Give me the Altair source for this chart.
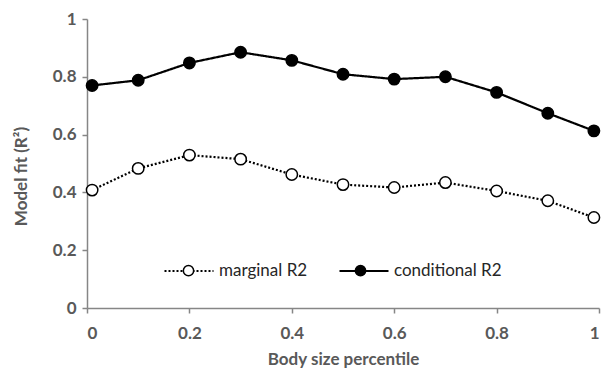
import altair as alt
import pandas as pd

percentile = [0.01, 0.1, 0.2, 0.3, 0.4, 0.5, 0.6, 0.7, 0.8, 0.9, 0.99]
marginal_r2 = [0.408, 0.483, 0.529, 0.515, 0.462, 0.427, 0.417, 0.434, 0.405, 0.371, 0.313]
conditional_r2 = [0.770, 0.788, 0.848, 0.885, 0.857, 0.809, 0.792, 0.800, 0.746, 0.674, 0.613]
series_names = ["marginal R2", "conditional R2"]

rows = []
for name, vals in zip(series_names, [marginal_r2, conditional_r2]):
    for p, v in zip(percentile, vals):
        rows.append({"p": p, "r2": v, "series": name, "series2": name})
df = pd.DataFrame(rows)

FONT = "Lato"
GRAY = "#595959"
AX = "#868686"
FS = 17

x = alt.X("p:Q", scale=alt.Scale(domain=[0, 1], nice=False),
          axis=alt.Axis(values=[0, 0.2, 0.4, 0.6, 0.8, 1], format=".1~f",
                        title="Body size percentile", labelBaseline="alphabetic",
                        labelPadding=25, titleBaseline="middle", titleY=51,
                        titleX=256, titleAnchor="middle"))
y = alt.Y("r2:Q", scale=alt.Scale(domain=[0, 1], nice=False),
          axis=alt.Axis(values=[0, 0.2, 0.4, 0.6, 0.8, 1], format=".1~f",
                        title="Model fit (R²)", labelPadding=6, labelBaseline="middle",
                        titleX=-66, titleY=157, titleBaseline="middle", titleAlign="center"))

LEG_X = 76
LEG_Y = 226
SYM = 2401
circle_path = "M-0.21,0 A0.21,0.21 0 1,0 0.21,0 A0.21,0.21 0 1,0 -0.21,0 Z"

common_legend = dict(orient="none", legendX=LEG_X, legendY=LEG_Y, direction="horizontal",
                     title=None, labelFont=FONT, labelFontSize=FS, labelColor="#262626",
                     labelOffset=4, padding=0, symbolSize=SYM)

lines = alt.Chart(df).mark_line(color="black", strokeWidth=2.2).encode(
    x=x, y=y,
    strokeDash=alt.StrokeDash("series:N",
        scale=alt.Scale(domain=series_names, range=[[2, 2], [1, 0]]),
        legend=alt.Legend(symbolType="stroke", symbolStrokeColor="black",
                          symbolStrokeWidth=2.2, columnPadding=27, **common_legend)),
)

points = alt.Chart(df).mark_point(shape="circle", filled=True, stroke="black",
                                  strokeWidth=1.5, size=130, opacity=1).encode(
    x=x, y=y,
    fill=alt.Fill("series2:N", sort=series_names,
        scale=alt.Scale(range=["white", "black"]),
        legend=alt.Legend(symbolType=circle_path, symbolStrokeColor="black",
                          symbolStrokeWidth=1.5, labelExpr="''", symbolOpacity=1,
                          columnPadding=117, **common_legend)),
)

chart = alt.layer(lines, points).properties(
    width=512, height=289,
    background="white",
    autosize=alt.AutoSizeParams(type="none"),
    padding={"left": 87, "top": 19, "right": 13, "bottom": 62},
).configure_view(stroke=None).configure_axis(
    grid=False, domainColor=AX, domainWidth=1.5, tickColor=AX, tickWidth=1.5, tickSize=5,
    labelFont=FONT, labelFontWeight="bold", labelColor=GRAY, labelFontSize=FS,
    titleFont=FONT, titleFontWeight="bold", titleColor=GRAY, titleFontSize=FS,
)

chart.save("out.html", embed_options={"renderer": "svg", "actions": False})
